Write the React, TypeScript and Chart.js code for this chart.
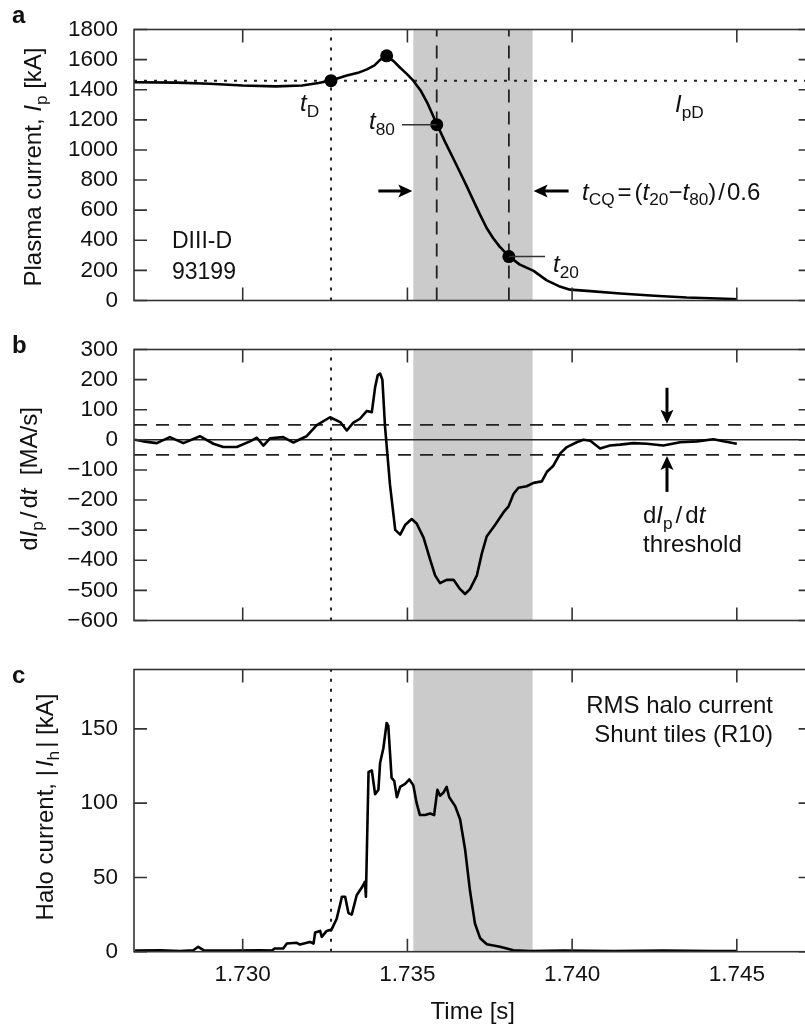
import React, { useEffect, useRef } from 'react';
import { Chart, registerables } from 'chart.js';

Chart.register(...registerables);

// ---------------- Data ----------------
const timeAxisMin = 1.7267;
const timeAxisMax = 1.74727;
const timeTicks = [1.73, 1.735, 1.74, 1.745];

const ipTicks = [0, 200, 400, 600, 800, 1000, 1200, 1400, 1600, 1800];
const dipTicks = [-600, -500, -400, -300, -200, -100, 0, 100, 200, 300];
const haloTicks = [0, 50, 100, 150];

// Panel a: plasma current [kA]
const ipTime = [
  1.7267, 1.728, 1.729, 1.73, 1.731, 1.7318, 1.7323, 1.73268, 1.73316, 1.7335,
  1.73377, 1.734, 1.73417, 1.73437, 1.73458, 1.73478, 1.73498, 1.73518, 1.7354, 1.7356,
  1.73589, 1.73615, 1.7364, 1.7366, 1.7368, 1.737, 1.7372, 1.73741, 1.7376, 1.7378,
  1.73808, 1.7384, 1.73883, 1.73923, 1.7396, 1.73994, 1.74055, 1.74146, 1.7425, 1.74348,
  1.74489, 1.745,
];
const ipValue = [
  1450, 1447, 1440, 1428, 1422, 1428, 1445, 1462, 1494, 1512,
  1535, 1562, 1598, 1625, 1590, 1546, 1505, 1460, 1395, 1315,
  1172, 1050, 940, 850, 760, 665, 572, 480, 415, 358,
  294, 240, 197, 134, 95, 72, 62, 47, 32, 20,
  10, 8,
];

// Panel b: dIp/dt [MA/s]
const dipTime = [
  1.72673, 1.72698, 1.72739, 1.72779, 1.7282, 1.7287, 1.72911, 1.72941, 1.72982, 1.73022,
  1.73043, 1.73063, 1.73083, 1.73123, 1.73154, 1.73174, 1.73194, 1.73225, 1.73265, 1.73296,
  1.73316, 1.73336, 1.73356, 1.73377, 1.73392, 1.73402, 1.7341, 1.73417, 1.73424, 1.73432,
  1.73439, 1.73447, 1.73463, 1.73478, 1.73493, 1.73513, 1.73528, 1.73549, 1.73569, 1.73584,
  1.73599, 1.73619, 1.7364, 1.7366, 1.73675, 1.7369, 1.73711, 1.73726, 1.73741, 1.73766,
  1.73791, 1.73807, 1.73822, 1.73837, 1.73862, 1.73883, 1.73908, 1.73923, 1.73943, 1.73964,
  1.73984, 1.74014, 1.74034, 1.74055, 1.74085, 1.74115, 1.74146, 1.74186, 1.74227, 1.74277,
  1.74328, 1.74379, 1.74429, 1.74459, 1.745,
];
const dipValue = [
  0, -5, -11, 9, -11, 12, -13, -24, -24, -5,
  7, -19, 5, 9, -9, 2, 12, 49, 75, 59,
  31, 57, 70, 96, 92, 175, 215, 220, 200, 45,
  -45, -148, -299, -315, -283, -263, -278, -325, -398, -450,
  -476, -465, -465, -496, -512, -496, -450, -377, -320, -283,
  -242, -221, -180, -159, -154, -143, -138, -107, -86, -45,
  -24, -8, 0, -3, -29, -19, -16, -11, -13, -19,
  -8, -5, 2, -5, -13,
];

// Panel c: RMS halo current [kA]
const haloTime = [
  1.72673, 1.72749, 1.7281, 1.7285, 1.72865, 1.72881, 1.72972, 1.73053, 1.73088, 1.73098,
  1.73123, 1.73134, 1.73164, 1.73174, 1.73204, 1.73215, 1.7322, 1.73235, 1.7324, 1.73255,
  1.7327, 1.73285, 1.73296, 1.73301, 1.73311, 1.73321, 1.73331, 1.73346, 1.73361, 1.73371,
  1.73374, 1.73382, 1.73392, 1.73402, 1.73412, 1.73417, 1.73427, 1.73437, 1.73442, 1.73452,
  1.7346, 1.73468, 1.73478, 1.73493, 1.73506, 1.73518, 1.73528, 1.73538, 1.73554, 1.73569,
  1.73581, 1.73591, 1.73599, 1.73609, 1.73619, 1.73627, 1.73645, 1.7366, 1.73675, 1.7369,
  1.73705, 1.73721, 1.73741, 1.73781, 1.73822, 1.73872, 1.73974, 1.74126, 1.74277, 1.74429,
  1.745,
];
const haloValue = [
  0.7, 1, 0.4, 1, 3.3, 1, 0.7, 1, 0.7, 2.2,
  2.2, 5.5, 6, 4.8, 6.6, 5.5, 13, 14, 10, 14,
  15, 22, 32, 37, 37, 26, 25, 38, 43, 47,
  37, 121, 122, 106, 109, 127, 137, 154, 152, 117,
  115, 104, 111, 113, 116, 112, 100, 92, 92, 93,
  92, 109, 105, 107, 111, 104, 98, 89, 69, 41,
  19, 9, 5, 3.3, 1, 0.4, 0.7, 0.4, 0.7, 0.4,
  0.4,
];

// Characteristic times and levels
const tD = 1.73268;
const tPeak = 1.73437;
const t80 = 1.73589;
const t20 = 1.73808;
const IpD = 1460;
const IpPeak = 1625;
const cqStart = 1.73518;
const cqEnd = 1.7388;
const threshold = 50;
const thresholdArrowTime = 1.74288;
const markerTime = [tD, tPeak, t80, t20];
const markerValue = [IpD, IpPeak, 0.8 * IpD, 0.2 * IpD];

// ---------------- Styling / layout ----------------
const FONT = '"Liberation Sans", Arial, Helvetica, sans-serif';
const TEXT = '#111';
const FRAME = '#333';
const BAND = '#cbcbcb';
const CANVAS_W = 830;
const PLOT_LEFT = 134;
const PLOT_RIGHT = 811.6;
const TICK_LEN = 13;
const TICK_FONT = 22.5;
const LABEL_FONT = 24;

type Seg = { t: string; i?: boolean; s?: boolean; b?: boolean; g?: number };

function fontOf(seg: Seg, size: number) {
  const sz = seg.s ? size * 0.72 : size;
  return `${seg.i ? 'italic ' : ''}${seg.b ? 'bold ' : ''}${sz}px ${FONT}`;
}

function drawRich(ctx: CanvasRenderingContext2D, segs: Seg[], x: number, y: number, size: number, align = 'left', rot = 0) {
  ctx.save();
  ctx.translate(x, y);
  if (rot) ctx.rotate(rot);
  let w = 0;
  for (const s of segs) {
    ctx.font = fontOf(s, size);
    w += ctx.measureText(s.t).width + (s.g || 0);
  }
  let cx = align === 'left' ? 0 : align === 'center' ? -w / 2 : -w;
  ctx.textAlign = 'left';
  ctx.textBaseline = 'alphabetic';
  ctx.fillStyle = TEXT;
  for (const s of segs) {
    ctx.font = fontOf(s, size);
    ctx.fillText(s.t, cx, s.s ? size * 0.24 : 0);
    cx += ctx.measureText(s.t).width + (s.g || 0);
  }
  ctx.restore();
}

function arrow(ctx: CanvasRenderingContext2D, x1: number, y1: number, x2: number, y2: number) {
  const ang = Math.atan2(y2 - y1, x2 - x1);
  const L = 14, W = 6.5;
  const c = Math.cos(ang), s = Math.sin(ang);
  const bx = x2 - L * c, by = y2 - L * s;
  ctx.save();
  ctx.strokeStyle = '#000';
  ctx.fillStyle = '#000';
  ctx.lineWidth = 3;
  ctx.beginPath();
  ctx.moveTo(x1, y1);
  ctx.lineTo(bx + 4 * c, by + 4 * s);
  ctx.stroke();
  ctx.beginPath();
  ctx.moveTo(x2, y2);
  ctx.lineTo(bx - W * s, by + W * c);
  ctx.lineTo(bx + 3 * c, by + 3 * s);
  ctx.lineTo(bx + W * s, by - W * c);
  ctx.closePath();
  ctx.fill();
  ctx.restore();
}

function hline(ctx: CanvasRenderingContext2D, x1: number, x2: number, y: number) {
  ctx.save();
  ctx.strokeStyle = '#333';
  ctx.lineWidth = 1.5;
  ctx.beginPath();
  ctx.moveTo(x1, y);
  ctx.lineTo(x2, y);
  ctx.stroke();
  ctx.restore();
}

const pts = (xs: number[], ys: number[]) =>
  xs.slice(0, Math.min(xs.length, ys.length)).map((x, i) => ({ x, y: ys[i] }));

const curve = (xs: number[], ys: number[]) => ({
  data: pts(xs, ys),
  borderColor: '#000',
  borderWidth: 2.6,
  pointRadius: 0,
  tension: 0,
  borderJoinStyle: 'round',
});

const refLine = (data: { x: number; y: number }[], dash: number[], width = 1.8) => ({
  data,
  borderColor: '#222',
  borderWidth: width,
  borderDash: dash,
  borderCapStyle: 'butt',
  pointRadius: 0,
  tension: 0,
});

const DOT = [3, 7];
const DASH = [13, 9];

interface PanelDef {
  top: number;
  height: number;
  padTop: number;
  padBottom: number;
  showX: boolean;
  yMin: number;
  yMax: number;
  yTicks: number[];
  datasets: any[];
  annotate: (chart: any, ctx: CanvasRenderingContext2D, off: number) => void;
}

const fmtMinus = (v: number) => (v < 0 ? '\u2212' + Math.abs(v) : String(v));

const panels: PanelDef[] = [
  {
    top: 0,
    height: 330,
    padTop: 22.5,
    padBottom: 330 - 311.7,
    showX: false,
    yMin: 0,
    yMax: 1800,
    yTicks: ipTicks,
    datasets: [
      {
        data: pts(markerTime, markerValue),
        showLine: false,
        pointRadius: 6.5,
        pointBackgroundColor: '#000',
        pointBorderWidth: 0,
      },
      curve(ipTime, ipValue),
      refLine([{ x: tD, y: 0 }, { x: tD, y: 1800 }], DOT, 2),
      refLine([{ x: timeAxisMin, y: IpD }, { x: timeAxisMax, y: IpD }], DOT, 2),
      refLine([{ x: t80, y: 0 }, { x: t80, y: 1800 }], DASH),
      refLine([{ x: t20, y: 0 }, { x: t20, y: 1800 }], DASH),
    ],
    annotate: (chart, ctx, off) => {
      const X = chart.scales.x, Y = chart.scales.y;
      drawRich(ctx, [{ t: 'a', b: true }], 12, 23 - off, 24);
      drawRich(ctx, [{ t: 'Plasma current, ' }, { t: 'I', i: true }, { t: 'p', s: true }, { t: ' [kA]' }], 41, 167 - off, LABEL_FONT, 'center', -Math.PI / 2);
      drawRich(ctx, [{ t: 'DIII-D' }], 172, 248 - off, 23);
      drawRich(ctx, [{ t: '93199' }], 172, 279 - off, 23);
      drawRich(ctx, [{ t: 't', i: true }, { t: 'D', s: true }], 300, 111 - off, LABEL_FONT);
      drawRich(ctx, [{ t: 't', i: true }, { t: '80', s: true }], 369, 129 - off, LABEL_FONT);
      hline(ctx, 402, X.getPixelForValue(t80), Y.getPixelForValue(0.8 * IpD));
      hline(ctx, X.getPixelForValue(t20), 545, Y.getPixelForValue(0.2 * IpD));
      drawRich(ctx, [{ t: 't', i: true }, { t: '20', s: true }], 553, 272 - off, LABEL_FONT);
      drawRich(ctx, [{ t: 'I', i: true }, { t: 'pD', s: true }], 675, 112 - off, LABEL_FONT);
      const ay = 191 - off;
      const xs = X.getPixelForValue(cqStart), xe = X.getPixelForValue(cqEnd);
      arrow(ctx, xs - 35, ay, xs - 1, ay);
      arrow(ctx, xe + 36, ay, xe + 1, ay);
      drawRich(ctx, [
        { t: 't', i: true }, { t: 'CQ', s: true, g: 3 }, { t: '=', g: 3 }, { t: '(' },
        { t: 't', i: true }, { t: '20', s: true }, { t: '\u2212' }, { t: 't', i: true }, { t: '80', s: true },
        { t: ')', g: 2 }, { t: '/', g: 2 }, { t: '0.6' },
      ], 582, 199.5 - off, LABEL_FONT);
    },
  },
  {
    top: 320,
    height: 330,
    padTop: 342.7 - 320,
    padBottom: 330 - (631.7 - 320),
    showX: false,
    yMin: -600,
    yMax: 300,
    yTicks: dipTicks,
    datasets: [
      curve(dipTime, dipValue),
      refLine([{ x: timeAxisMin, y: 0 }, { x: timeAxisMax, y: 0 }], [], 1.5),
      refLine([{ x: timeAxisMin, y: threshold }, { x: timeAxisMax, y: threshold }], DASH),
      refLine([{ x: timeAxisMin, y: -threshold }, { x: timeAxisMax, y: -threshold }], DASH),
      refLine([{ x: tD, y: -600 }, { x: tD, y: 300 }], DOT, 2),
    ],
    annotate: (chart, ctx, off) => {
      const X = chart.scales.x, Y = chart.scales.y;
      drawRich(ctx, [{ t: 'b', b: true }], 12, 353 - off, 24);
      drawRich(ctx, [
        { t: 'd' }, { t: 'I', i: true }, { t: 'p', s: true, g: 3 }, { t: '/', g: 3 }, { t: 'd' }, { t: 't', i: true }, { t: '  [MA/s]' },
      ], 37, 479 - off, LABEL_FONT, 'center', -Math.PI / 2);
      drawRich(ctx, [
        { t: 'd' }, { t: 'I', i: true }, { t: 'p', s: true, g: 3 }, { t: '/', g: 3 }, { t: 'd' }, { t: 't', i: true },
      ], 643, 523 - off, LABEL_FONT);
      drawRich(ctx, [{ t: 'threshold' }], 643, 551.5 - off, LABEL_FONT);
      const ax = X.getPixelForValue(thresholdArrowTime);
      const up = Y.getPixelForValue(threshold) - 1;
      const dn = Y.getPixelForValue(-threshold) + 1;
      arrow(ctx, ax, up - 36, ax, up);
      arrow(ctx, ax, dn + 36, ax, dn);
    },
  },
  {
    top: 640,
    height: 387,
    padTop: 663.3 - 640,
    padBottom: 0,
    showX: true,
    yMin: 0,
    yMax: 190,
    yTicks: haloTicks,
    datasets: [
      curve(haloTime, haloValue),
      refLine([{ x: tD, y: 0 }, { x: tD, y: 190 }], DOT, 2),
    ],
    annotate: (chart, ctx, off) => {
      const a = chart.chartArea;
      drawRich(ctx, [{ t: 'c', b: true }], 12, 683 - off, 24);
      drawRich(ctx, [
        { t: 'Halo current, |', g: 3 }, { t: 'I', i: true }, { t: 'h', s: true, g: 3 }, { t: '| [kA]' },
      ], 53, 807 - off, LABEL_FONT, 'center', -Math.PI / 2);
      drawRich(ctx, [{ t: 'RMS halo current' }], 773, 713 - off, LABEL_FONT, 'right');
      drawRich(ctx, [{ t: 'Shunt tiles (R10)' }], 773, 742 - off, LABEL_FONT, 'right');
      drawRich(ctx, [{ t: 'Time [s]' }], (a.left + a.right) / 2, 1019 - off, LABEL_FONT, 'center');
    },
  },
];

function panelPlugin(p: PanelDef) {
  return {
    id: 'panelDecor',
    beforeDatasetsDraw(chart: any) {
      const { ctx, chartArea: a, scales } = chart;
      const x1 = scales.x.getPixelForValue(cqStart);
      const x2 = scales.x.getPixelForValue(cqEnd);
      ctx.save();
      ctx.fillStyle = BAND;
      ctx.fillRect(x1, a.top, x2 - x1, a.bottom - a.top);
      ctx.restore();
    },
    afterDraw(chart: any) {
      const { ctx, chartArea: a, scales } = chart;
      ctx.save();
      ctx.strokeStyle = FRAME;
      ctx.lineWidth = 1.6;
      ctx.strokeRect(a.left, a.top, a.right - a.left, a.bottom - a.top);
      ctx.beginPath();
      for (const t of scales.x.ticks) {
        const x = scales.x.getPixelForValue(t.value);
        ctx.moveTo(x, a.top);
        ctx.lineTo(x, a.top + TICK_LEN);
        ctx.moveTo(x, a.bottom);
        ctx.lineTo(x, a.bottom - TICK_LEN);
      }
      for (const t of scales.y.ticks) {
        const y = scales.y.getPixelForValue(t.value);
        ctx.moveTo(a.left, y);
        ctx.lineTo(a.left + TICK_LEN, y);
        ctx.moveTo(a.right, y);
        ctx.lineTo(a.right - TICK_LEN, y);
      }
      ctx.stroke();
      ctx.restore();
      p.annotate(chart, ctx, p.top);
    },
  };
}

function buildConfig(p: PanelDef): any {
  const tickFont = { family: FONT, size: TICK_FONT };
  return {
    type: 'line',
    data: { datasets: p.datasets },
    options: {
      responsive: false,
      animation: false,
      devicePixelRatio: 1,
      events: [],
      layout: { padding: { top: p.padTop, right: CANVAS_W - PLOT_RIGHT, bottom: p.padBottom, left: 0 } },
      plugins: { legend: { display: false }, tooltip: { enabled: false }, title: { display: false } },
      scales: {
        x: {
          type: 'linear',
          min: timeAxisMin,
          max: timeAxisMax,
          display: p.showX,
          afterBuildTicks: (s: any) => {
            s.ticks = timeTicks.map((v) => ({ value: v }));
          },
          afterFit: (s: any) => {
            if (p.showX) s.height = p.height - 311.7;
          },
          grid: { display: false, drawTicks: false },
          border: { display: false },
          ticks: {
            font: tickFont,
            color: TEXT,
            padding: 10,
            maxRotation: 0,
            autoSkip: false,
            callback: (v: any) => Number(v).toFixed(3),
          },
        },
        y: {
          type: 'linear',
          min: p.yMin,
          max: p.yMax,
          afterBuildTicks: (s: any) => {
            s.ticks = p.yTicks.map((v) => ({ value: v }));
          },
          afterFit: (s: any) => {
            s.width = PLOT_LEFT;
          },
          grid: { display: false, drawTicks: false },
          border: { display: false },
          ticks: {
            font: tickFont,
            color: TEXT,
            padding: 16,
            autoSkip: false,
            callback: (v: any) => fmtMinus(Number(v)),
          },
        },
      },
    },
    plugins: [panelPlugin(p)],
  };
}

function Panel({ p }: { p: PanelDef }) {
  const ref = useRef<HTMLCanvasElement>(null);
  useEffect(() => {
    const chart = new Chart(ref.current as HTMLCanvasElement, buildConfig(p));
    return () => chart.destroy();
  }, [p]);
  return (
    <canvas
      ref={ref}
      width={CANVAS_W}
      height={p.height}
      style={{ position: 'absolute', left: 0, top: p.top, width: CANVAS_W, height: p.height }}
    />
  );
}

export default function App() {
  return (
    <div
      style={{
        position: 'absolute',
        left: 0,
        top: 0,
        width: 805,
        height: 1027,
        overflow: 'hidden',
        background: '#fff',
      }}
    >
      {panels.map((p, i) => (
        <Panel key={i} p={p} />
      ))}
    </div>
  );
}
